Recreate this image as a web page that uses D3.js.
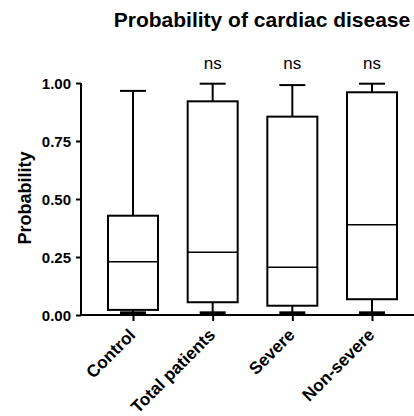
<!DOCTYPE html>
<html><head><meta charset="utf-8">
<script src="https://cdn.jsdelivr.net/npm/d3@7"></script>
<style>body{margin:0;background:#fff}svg{display:block;font-family:"Liberation Sans",Arial,sans-serif}</style>
</head><body><svg id="c" width="414" height="416"></svg>
<script>
const categories = ["Control","Total patients","Severe","Non-severe"];
const mins = [0.005,0.005,0.005,0.005];
const q1s = [0.022,0.055,0.040,0.068];
const medians = [0.230,0.270,0.206,0.389];
const q3s = [0.428,0.921,0.855,0.960];
const maxs = [0.966,0.997,0.991,0.997];
const sigLabels = ["","ns","ns","ns"];
const yTicks = [0,0.25,0.5,0.75,1.0];

const svg = d3.select("#c");
const x = d3.scalePoint().domain(categories).range([133,372]);
const y = d3.scaleLinear().domain([0,1]).range([315,83]);
const data = categories.map((c,i)=>({c,min:mins[i],q1:q1s[i],med:medians[i],q3:q3s[i],max:maxs[i],sig:sigLabels[i]}));
const bw = 50, cw = 26;

// y axis
const ya = svg.append("g").attr("transform","translate(81,0)")
  .call(d3.axisLeft(y).tickValues(yTicks).tickFormat(d3.format(".2f")).tickSizeOuter(0).tickSize(5));
ya.select(".domain").attr("stroke","#000").attr("stroke-width",2).attr("d","M0,"+y(1)+"V"+y(0));
ya.selectAll(".tick line").attr("stroke-width",2);
ya.selectAll(".tick text").attr("font-size",15).attr("font-weight","bold").attr("fill","#000").attr("x",-10).attr("dy","0.35em");

// x axis
const xa = svg.append("g").attr("transform","translate(0,315)")
  .call(d3.axisBottom(x).tickSize(6).tickSizeOuter(0));
xa.select(".domain").attr("stroke-width",2).attr("d","M80,0H414");
xa.selectAll(".tick line").attr("stroke-width",2);
xa.selectAll(".tick text").attr("font-size",17.2).attr("font-weight","bold").attr("fill","#000")
  .attr("text-anchor","end").attr("dy","0").attr("y",0)
  .attr("transform","translate(3,21) rotate(-45)");

const g = svg.append("g");
data.forEach(d=>{
  const cx = x(d.c);
  g.append("line").attr("x1",cx).attr("x2",cx).attr("y1",y(d.max)).attr("y2",y(d.q3)).attr("stroke","#000").attr("stroke-width",2);
  g.append("line").attr("x1",cx).attr("x2",cx).attr("y1",y(d.q1)).attr("y2",y(d.min)).attr("stroke","#000").attr("stroke-width",2);
  g.append("line").attr("x1",cx-cw/2).attr("x2",cx+cw/2).attr("y1",y(d.max)).attr("y2",y(d.max)).attr("stroke","#000").attr("stroke-width",2);
  g.append("line").attr("x1",cx-cw/2).attr("x2",cx+cw/2).attr("y1",y(d.min)-1).attr("y2",y(d.min)-1).attr("stroke","#000").attr("stroke-width",3);
  g.append("rect").attr("x",cx-bw/2).attr("width",bw).attr("y",y(d.q3)).attr("height",y(d.q1)-y(d.q3))
    .attr("fill","#fff").attr("stroke","#000").attr("stroke-width",2);
  g.append("line").attr("x1",cx-bw/2).attr("x2",cx+bw/2).attr("y1",y(d.med)).attr("y2",y(d.med)).attr("stroke","#000").attr("stroke-width",1.5);
  if(d.sig) g.append("text").attr("x",cx).attr("y",69).attr("text-anchor","middle").attr("font-size",17).attr("fill","#000").text(d.sig);
});

svg.append("text").attr("x",262).attr("y",27).attr("text-anchor","middle").attr("font-size",21).attr("font-weight","bold").text("Probability of cardiac disease");
svg.append("text").attr("transform","translate(31,198) rotate(-90)").attr("text-anchor","middle").attr("font-size",18).attr("font-weight","bold").text("Probability");
</script></body></html>
